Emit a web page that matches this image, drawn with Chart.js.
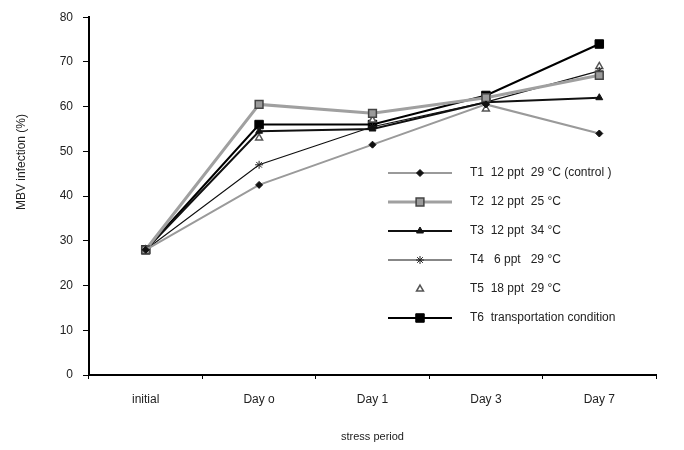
<!DOCTYPE html>
<html>
<head>
<meta charset="utf-8">
<script src="https://cdn.jsdelivr.net/npm/chart.js@4"></script>
<style>
  html, body { margin: 0; padding: 0; background: #fff; }
  #wrap { width: 684px; height: 450px; }
</style>
</head>
<body>
<div id="wrap"><canvas id="mbvChart" width="684" height="450"></canvas></div>
<script>
// categories and series
const categories = ['initial', 'Day o', 'Day 1', 'Day 3', 'Day 7'];
const yTicks = [0, 10, 20, 30, 40, 50, 60, 70, 80];

const t1Values = [28, 42.5, 51.5, 60.5, 54];
const t2Values = [28, 60.5, 58.5, 62, 67];
const t3Values = [28, 54.5, 55, 61, 62];
const t4Values = [28, 47, 55.5, 61, 68];
const t5Values = [28, 53, 57, 59.5, 69];
const t6Values = [28, 56, 56, 62.5, 74];

const seriesLabels = [
    'T1  12 ppt  29 \u00B0C (control )',
    'T2  12 ppt  25 \u00B0C',
    'T3  12 ppt  34 \u00B0C',
    'T4   6 ppt   29 \u00B0C',
    'T5  18 ppt  29 \u00B0C',
    'T6  transportation condition'
];

const FONT = '"Liberation Sans", Arial, sans-serif';
const TEXT = '#222';

// Legend drawn inside the plot, line - marker - line like the original
const insideLegend = {
    id: 'insideLegend',
    afterDatasetsDraw(chart) {
        const ctx = chart.ctx;
        const rowTop = 173, rowGap = 29;
        ctx.save();
        chart.data.datasets.forEach((ds, i) => {
            const y = rowTop + i * rowGap;
            if (ds.showLine !== false) {
                ctx.strokeStyle = ds.borderColor;
                ctx.lineWidth = ds.borderWidth;
                ctx.beginPath();
                ctx.moveTo(388, y);
                ctx.lineTo(452, y);
                ctx.stroke();
            }
            ctx.fillStyle = ds.pointBackgroundColor;
            ctx.strokeStyle = ds.pointBorderColor;
            ctx.lineWidth = ds.pointBorderWidth;
            Chart.helpers.drawPoint(ctx, {
                pointStyle: ds.pointStyle,
                radius: ds.pointRadius,
                borderWidth: ds.pointBorderWidth,
                rotation: 0
            }, 420, y);
            ctx.fillStyle = TEXT;
            ctx.font = '12px ' + FONT;
            ctx.textBaseline = 'middle';
            ctx.textAlign = 'left';
            ctx.fillText(ds.label, 470, y);
        });
        ctx.restore();
    }
};

// Y title sits a little above the axis centre in the original
const yTitle = {
    id: 'yTitle',
    afterDraw(chart) {
        const ctx = chart.ctx;
        ctx.save();
        ctx.translate(22, 162);
        ctx.rotate(-Math.PI / 2);
        ctx.fillStyle = TEXT;
        ctx.font = '12px ' + FONT;
        ctx.textAlign = 'center';
        ctx.textBaseline = 'middle';
        ctx.fillText('MBV infection (%)', 0, 0);
        ctx.restore();
    }
};

const ctx = document.getElementById('mbvChart').getContext('2d');
new Chart(ctx, {
    type: 'line',
    data: {
        labels: categories,
        datasets: [
            {
                label: seriesLabels[0],
                data: t1Values,
                borderColor: '#9a9a9a',
                borderWidth: 2,
                pointStyle: 'rectRot',
                pointRadius: 3.5,
                pointBackgroundColor: '#111',
                pointBorderColor: '#111',
                pointBorderWidth: 1
            },
            {
                label: seriesLabels[1],
                data: t2Values,
                borderColor: '#a0a0a0',
                borderWidth: 3,
                pointStyle: 'rect',
                pointRadius: 5.5,
                pointBackgroundColor: '#9a9a9a',
                pointBorderColor: '#444',
                pointBorderWidth: 1.5
            },
            {
                label: seriesLabels[2],
                data: t3Values,
                borderColor: '#111',
                borderWidth: 2,
                pointStyle: 'triangle',
                pointRadius: 4,
                pointBackgroundColor: '#111',
                pointBorderColor: '#111',
                pointBorderWidth: 1
            },
            {
                label: seriesLabels[3],
                data: t4Values,
                borderColor: '#111',
                borderWidth: 1.2,
                pointStyle: 'star',
                pointRadius: 4,
                pointBackgroundColor: '#222',
                pointBorderColor: '#222',
                pointBorderWidth: 1
            },
            {
                label: seriesLabels[4],
                data: t5Values,
                showLine: false,
                borderColor: '#777',
                borderWidth: 1,
                pointStyle: 'triangle',
                pointRadius: 4,
                pointBackgroundColor: '#fff',
                pointBorderColor: '#555',
                pointBorderWidth: 1.5
            },
            {
                label: seriesLabels[5],
                data: t6Values,
                borderColor: '#000',
                borderWidth: 2,
                pointStyle: 'rect',
                pointRadius: 6,
                pointBackgroundColor: '#000',
                pointBorderColor: '#000',
                pointBorderWidth: 1
            }
        ]
    },
    options: {
        responsive: false,
        animation: false,
        layout: { padding: { top: 12, right: 28, left: 0, bottom: 0 } },
        plugins: {
            legend: { display: false },
            tooltip: { enabled: false }
        },
        elements: { line: { tension: 0 } },
        scales: {
            x: {
                offset: true,
                grid: {
                    offset: true,
                    drawOnChartArea: false,
                    drawTicks: true,
                    tickLength: 4,
                    color: '#000'
                },
                border: { color: '#000', width: 2 },
                ticks: {
                    color: TEXT,
                    font: { family: FONT, size: 12 },
                    padding: 13
                },
                title: {
                    display: true,
                    text: 'stress period',
                    color: TEXT,
                    font: { family: FONT, size: 11 },
                    padding: { top: 14, bottom: 6 }
                },
                afterFit(scale) { scale.height = 75; }
            },
            y: {
                min: 0,
                max: 80,
                afterBuildTicks(scale) {
                    scale.ticks = yTicks.map(v => ({ value: v }));
                },
                grid: {
                    drawOnChartArea: false,
                    drawTicks: true,
                    tickLength: 6,
                    color: '#000'
                },
                border: { color: '#000', width: 2 },
                ticks: {
                    color: TEXT,
                    font: { family: FONT, size: 12 },
                    padding: 10
                },
                afterFit(scale) { scale.width = 89; }
            }
        }
    },
    plugins: [insideLegend, yTitle]
});
</script>
</body>
</html>
